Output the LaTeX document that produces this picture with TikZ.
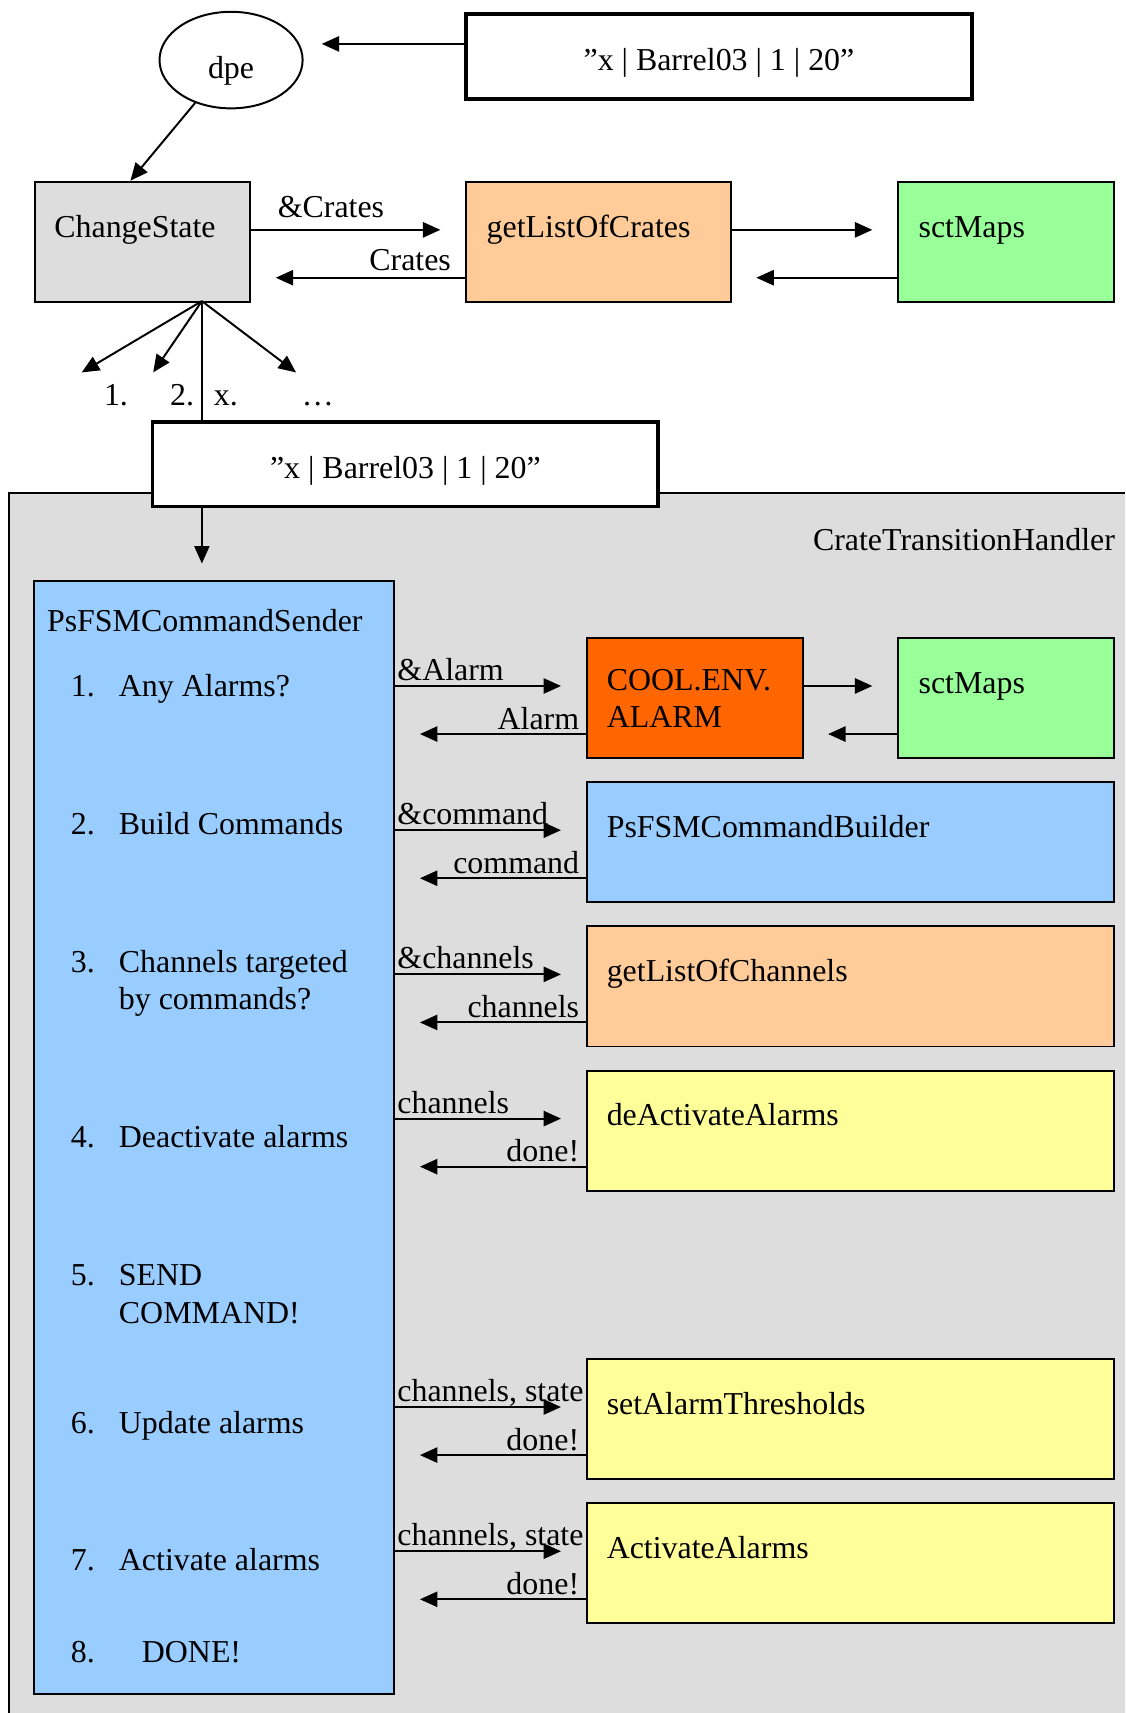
\documentclass[tikz,border=0pt]{standalone}
\usepackage{fontspec}
\setmainfont{Liberation Serif}
\usetikzlibrary{arrows.meta,shapes.geometric}
\definecolor{hgray}{HTML}{DDDDDD}
\definecolor{peach}{HTML}{FFCC99}
\definecolor{mint}{HTML}{99FF99}
\definecolor{sky}{HTML}{99CCFF}
\definecolor{alarmorange}{HTML}{FF6600}
\definecolor{paleyellow}{HTML}{FFFF99}
\newcommand{\twoline}[2]{\vtop{\baselineskip=17pt\hbox{#1}\hbox{#2}}}
\begin{document}
\begin{tikzpicture}[x=0.5pt,y=-0.5pt,
  font=\fontsize{14.6pt}{17pt}\selectfont,
  blk/.style={draw,line width=0.9pt,anchor=north west,inner sep=0pt},
  strbox/.style={draw,line width=1.6pt,fill=white,anchor=north west,inner sep=0pt,minimum height=38.8pt,text height=13pt,text depth=0pt},
  txt/.style={anchor=base west,inner sep=0pt},
  arr/.style={-{Triangle[length=8pt,width=7pt]},line width=0.9pt},
  gap/.style={shorten >=11.25pt},
  fwd/.style={anchor=base west,inner sep=0pt,xshift=0.5pt,yshift=2.5pt},
  bwd/.style={anchor=base east,inner sep=0pt,xshift=-2.5pt,yshift=2.25pt}]
\useasboundingbox (0,0) rectangle (1030,1568);
\node[draw,ellipse,line width=0.9pt,minimum width=65.5pt,minimum height=44.2pt,inner sep=0pt,text height=16.8pt,text depth=0pt] (dpe) at (211.5,55) {dpe};
\node[strbox,minimum width=231.5pt] (str1) at (425,11.3) {”x | Barrel03 | 1 | 20”};
\draw[arr,shorten >=8.3pt] ([yshift=5.75pt]str1.west) -- ([yshift=5.75pt]str1.west -| dpe.east);
\node[blk,fill=hgray,minimum width=98.6pt,minimum height=55.1pt] (cs) at (30.9,165.4) {};
\node[txt] (cst) at ([xshift=9.25pt,yshift=-26pt]cs.north west) {ChangeState};
\node[blk,fill=peach,minimum width=121.2pt,minimum height=55.1pt] (glc) at (425.6,165.4) {};
\node[txt] (glct) at ([xshift=9.75pt,yshift=-26pt]glc.north west) {getListOfCrates};
\node[blk,fill=mint,minimum width=99pt,minimum height=55.1pt] (sct) at (821,165.4) {};
\node[txt] (sctt) at ([xshift=9.75pt,yshift=-26pt]sct.north west) {sctMaps};
\draw[arr] (dpe.230) -- ([xshift=-5.5pt]cs.north);
\draw[arr,gap] ([yshift=5.5pt]cs.east) node[fwd,xshift=11.25pt,yshift=3pt] (lcr1) {\&Crates} -- ([yshift=5.5pt]cs.east -| glc.west);
\draw[arr,gap] ([yshift=-16.4pt]glc.west) node[bwd,xshift=-3.5pt,yshift=1pt] (lcr2) {Crates} -- ([yshift=-16.4pt]glc.west -| cs.east);
\draw[arr,gap] ([yshift=5.5pt]glc.east) -- ([yshift=5.5pt]glc.east -| sct.west);
\draw[arr,gap] ([yshift=-16.4pt]sct.west) -- ([yshift=-16.4pt]sct.west -| glc.east);
\coordinate (fan) at (184.8,275.6);
\coordinate (t1) at (74.8,340.9);
\coordinate (t2) at (140.2,340.9);
\coordinate (t3) at (271,340.9);
\coordinate (into) at (184.8,515.8);
\draw[arr] (fan) -- (t1);
\draw[arr] (fan) -- (t2);
\draw[arr] (fan) -- (t3);
\node[txt] (n1) at (94.8,370.8) {1.};
\node[txt] (n2) at (155.3,370.8) {2.};
\node[txt] (nx) at (195.4,370.8) {x.};
\node[txt] (nd) at (275.9,370.8) {…};
\fill[hgray] (8.2,451) rectangle (1030,1568);
\draw[line width=0.9pt] (1030,451) -- (8.2,451) -- (8.2,1568);
\node[anchor=base east,inner sep=0pt] (cth) at (1020.9,503.6) {CrateTransitionHandler};
\node[strbox,minimum width=231.3pt] (str2) at (138.2,384.5) {”x | Barrel03 | 1 | 20”};
\draw[line width=0.6pt] (fan) -- (fan |- str2.north);
\draw[arr,line width=0.6pt] (fan |- str2.south) -- (into);
\node[blk,fill=sky,minimum width=165.1pt,minimum height=509.4pt] (snd) at (29.9,531) {};
\node[txt] (sndt) at (42.7,578.3) {PsFSMCommandSender};
\node[txt] (it1) at (64.5,637.2) {\makebox[22pt][l]{1.}Any Alarms?};
\node[txt] (it2) at (64.5,763.9) {\makebox[22pt][l]{2.}Build Commands};
\node[txt] (it3) at (64.5,890.2) {\makebox[22pt][l]{3.}\twoline{Channels targeted}{by commands?}};
\node[txt] (it4) at (64.5,1049.9) {\makebox[22pt][l]{4.}Deactivate alarms};
\node[txt] (it5) at (64.5,1177.1) {\makebox[22pt][l]{5.}\twoline{SEND}{COMMAND!}};
\node[txt] (it6) at (64.5,1312.3) {\makebox[22pt][l]{6.}Update alarms};
\node[txt] (it7) at (64.5,1438) {\makebox[22pt][l]{7.}Activate alarms};
\node[txt] (it8) at (64.5,1521.5) {\makebox[32.5pt][l]{8.}DONE!};
\node[blk,fill=alarmorange,minimum width=98.85pt,minimum height=55pt] (cool) at (536,583) {};
\node[txt] (coolt) at ([xshift=9.5pt,yshift=-24.5pt]cool.north west) {\twoline{COOL.ENV.}{ALARM}};
\node[blk,fill=mint,minimum width=99pt,minimum height=55pt] (sct2) at (821,583) {};
\node[txt] (sct2t) at ([xshift=9.75pt,yshift=-26pt]sct2.north west) {sctMaps};
\draw[arr,gap] ([yshift=5.5pt]cool.west -| snd.east) node[fwd] (la1) {\&Alarm} -- ([yshift=5.5pt]cool.west);
\draw[arr,gap] ([yshift=-16.5pt]cool.west) node[bwd] (la2) {Alarm} -- ([yshift=-16.5pt]cool.west -| snd.east);
\draw[arr,gap] ([yshift=5.5pt]cool.east) -- ([yshift=5.5pt]cool.east -| sct2.west);
\draw[arr,gap] ([yshift=-16.5pt]sct2.west) -- ([yshift=-16.5pt]sct2.west -| cool.east);
\node[blk,fill=sky,minimum width=241.5pt,minimum height=55pt] (bld) at (536,715) {};
\node[txt] (bldt) at ([xshift=9.5pt,yshift=-25.75pt]bld.north west) {PsFSMCommandBuilder};
\draw[arr,gap] ([yshift=5.5pt]bld.west -| snd.east) node[fwd] (lb1) {\&command} -- ([yshift=5.5pt]bld.west);
\draw[arr,gap] ([yshift=-16.5pt]bld.west) node[bwd] (lb2) {command} -- ([yshift=-16.5pt]bld.west -| snd.east);
\node[blk,fill=peach,minimum width=241.5pt,minimum height=55pt] (glch) at (536,847) {};
\node[txt] (glcht) at ([xshift=9.5pt,yshift=-25.75pt]glch.north west) {getListOfChannels};
\draw[arr,gap] ([yshift=5.5pt]glch.west -| snd.east) node[fwd] (lc1) {\&channels} -- ([yshift=5.5pt]glch.west);
\draw[arr,gap] ([yshift=-16.5pt]glch.west) node[bwd] (lc2) {channels} -- ([yshift=-16.5pt]glch.west -| snd.east);
\node[blk,fill=paleyellow,minimum width=241.5pt,minimum height=55pt] (deact) at (536,979) {};
\node[txt] (deactt) at ([xshift=9.5pt,yshift=-25.75pt]deact.north west) {deActivateAlarms};
\draw[arr,gap] ([yshift=5.5pt]deact.west -| snd.east) node[fwd] (ld1) {channels} -- ([yshift=5.5pt]deact.west);
\draw[arr,gap] ([yshift=-16.5pt]deact.west) node[bwd] (ld2) {done!} -- ([yshift=-16.5pt]deact.west -| snd.east);
\node[blk,fill=paleyellow,minimum width=241.5pt,minimum height=55pt] (thr) at (536,1243) {};
\node[txt] (thrt) at ([xshift=9.5pt,yshift=-25.75pt]thr.north west) {setAlarmThresholds};
\draw[arr,gap] ([yshift=5.5pt]thr.west -| snd.east) node[fwd] (lt1) {channels, state} -- ([yshift=5.5pt]thr.west);
\draw[arr,gap] ([yshift=-16.5pt]thr.west) node[bwd] (lt2) {done!} -- ([yshift=-16.5pt]thr.west -| snd.east);
\node[blk,fill=paleyellow,minimum width=241.5pt,minimum height=55pt] (act) at (536,1375) {};
\node[txt] (actt) at ([xshift=9.5pt,yshift=-25.75pt]act.north west) {ActivateAlarms};
\draw[arr,gap] ([yshift=5.5pt]act.west -| snd.east) node[fwd] (lv1) {channels, state} -- ([yshift=5.5pt]act.west);
\draw[arr,gap] ([yshift=-16.5pt]act.west) node[bwd] (lv2) {done!} -- ([yshift=-16.5pt]act.west -| snd.east);
\end{tikzpicture}
\end{document}
